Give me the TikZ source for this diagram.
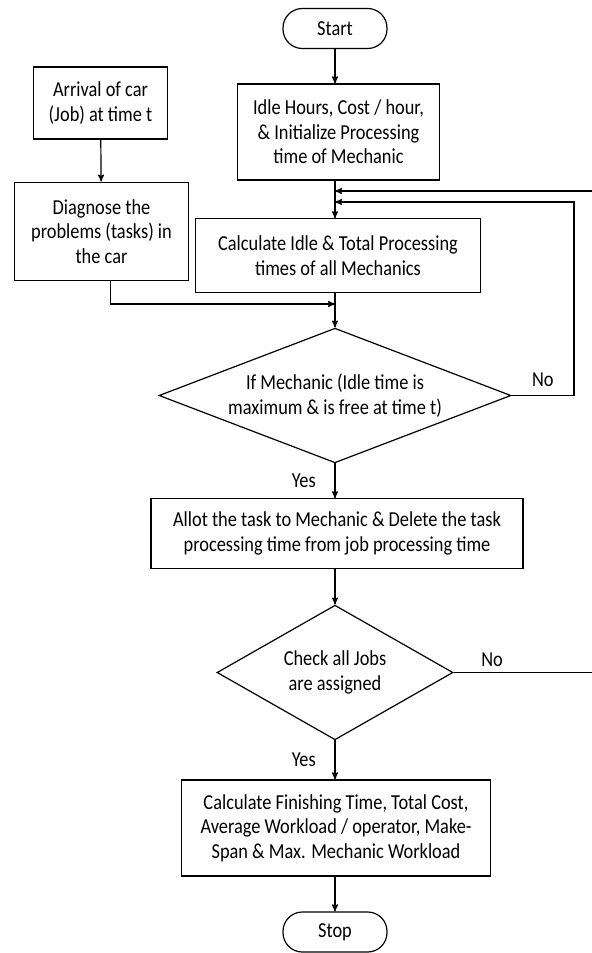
\documentclass[tikz,border=0pt]{standalone}
\usepackage{fontspec}
\setmainfont{Carlito}[FakeStretch=0.86]
\usepackage{tikz}
\usetikzlibrary{arrows,shapes.geometric,positioning}

\begin{document}
\begin{tikzpicture}[->,>=stealth',x=0.75pt,y=-0.75pt,line width=0.9pt,
                    font=\fontsize{16}{18.4}\selectfont]
	\tikzstyle{every node}=[align=center,inner sep=0pt]
	\tikzstyle{process}=[draw,rectangle]
	\tikzstyle{terminal}=[draw,rectangle,rounded corners=14.5pt,minimum width=78pt,minimum height=30pt]
	\tikzstyle{decision}=[draw,diamond]

	\useasboundingbox (0,0) rectangle (592,953);

	\node[terminal]	(start)	at (335,28.5)	{Start};
	\node[process,minimum width=152pt,minimum height=72pt]	(idle)	at (338.5,132)	{Idle Hours, Cost / hour,\\ \& Initialize Processing\\ time of Mechanic};
	\node[process,minimum width=100pt,minimum height=54pt]	(arrival)	at (100.5,103)	{Arrival of car\\ (Job) at time t};
	\node[process,minimum width=131pt,minimum height=74pt]	(diagnose)	at (101.5,231.5)	{Diagnose the\\ problems (tasks) in\\ the car};
	\node[process,minimum width=214pt,minimum height=55pt]	(calc)	at (338,255.5)	{Calculate Idle \& Total Processing\\ times of all Mechanics};
	\node[decision,aspect=2.6,minimum width=264pt,minimum height=101pt]	(free)	at (335,395.5)	{If Mechanic (Idle time is\\ maximum \& is free at time t)};
	\node[process,minimum width=279pt,minimum height=52pt]	(allot)	at (337,533.5)	{Allot the task to Mechanic \& Delete the task\\ processing time from job processing time};
	\node[decision,aspect=1.75,minimum width=177pt,minimum height=101pt]	(check)	at (335,672.5)	{Check all Jobs\\ are assigned};
	\node[process,minimum width=232pt,minimum height=72pt]	(finish)	at (336,828)	{Calculate Finishing Time, Total Cost,\\ Average Workload / operator, Make-\\ Span \& Max. Mechanic Workload};
	\node[terminal]	(stop)	at (335,932)	{Stop};

	% junctions on the main line
	\coordinate (loopa) at (335,191);
	\coordinate (loopb) at (335,202);
	\coordinate (join) at (335,304);

	\draw (start) -- (idle.north -| start);
	\draw (idle.south -| start) -- (calc.north -| start);
	\draw (arrival) -- (diagnose);
	\draw[-] (calc.south -| start) -- (join);
	\draw (join) -- (free.north);
	\draw ([xshift=6.5pt]diagnose.south) |- (join);
	\draw (free.south) -- node[left=14pt] {Yes} (allot.north -| free.south);
	\draw (allot.south -| check) -- (check.north);
	\draw (check.south) -- node[left=14pt] {Yes} (finish.north -| check.south);
	\draw (finish.south -| stop) -- (stop);

	% loops back
	\draw (free.east) -- node[above=6pt] {No} (574,395.5) |- (loopb);
	\draw (check.east) -- node[pos=0.27,above=4pt] {No} (596,672.5) |- (loopa);
\end{tikzpicture}
\end{document}
